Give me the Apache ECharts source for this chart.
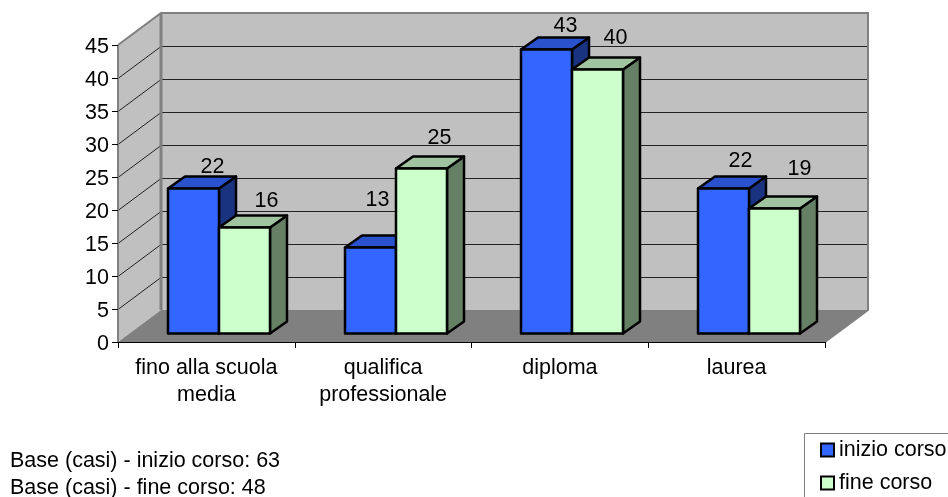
<!DOCTYPE html>
<html><head><meta charset="utf-8">
<style>html,body{margin:0;padding:0;background:#fff;overflow:hidden}#c{width:948px;height:497px}</style>
<script src="https://cdn.jsdelivr.net/npm/echarts@6/dist/echarts.min.js"></script>
</head><body><div id="c"></div>
<script>
const categories = ['fino alla scuola\nmedia', 'qualifica\nprofessionale', 'diploma', 'laurea'];
const inizioCorso = [22, 13, 43, 22];
const fineCorso = [16, 25, 40, 19];
const gridValues = [5, 10, 15, 20, 25, 30, 35, 40, 45];
const notes = ['Base (casi) - inizio corso: 63', 'Base (casi) - fine corso: 48'];
const FONT = 'Liberation Sans, Arial, sans-serif';
const FS = 21.5;
const DEPTH = [43, -32], BAR_SHIFT = [12.6, -9], BAR_DEPTH = [17, -12], BAR_FRAC = 51 / 176.75;
// label nudges relative to the top-centre of each bar front, as Excel placed them
const nudgeA = [[19, -21.5], [7, -47.5], [19, -23.5], [17, -27.5]];
const nudgeB = [[22, -26.5], [18, -30.5], [18, -31.5], [25, -39.5]];

function wallsItem(params, api) {
  const g = params.coordSys;
  const L = g.x, R = g.x + g.width, T = g.y, B = g.y + g.height;
  const dx = DEPTH[0], dy = DEPTH[1];
  const kids = [
    { type: 'polygon', shape: { points: [[L, T], [L + dx, T + dy], [L + dx, B + dy], [L, B]] }, style: { fill: '#c0c0c0' } },
    { type: 'polygon', shape: { points: [[L + dx, T + dy], [R + dx, T + dy], [R + dx, B + dy], [L + dx, B + dy]] }, style: { fill: '#c0c0c0' } },
    { type: 'polygon', shape: { points: [[L, B], [L + dx, B + dy], [R + dx, B + dy], [R, B]] }, style: { fill: '#808080' } }
  ];
  gridValues.forEach(v => {
    const y = Math.round(api.coord([0, v])[1]) + 0.5;
    if (v < 45) {
      kids.push({ type: 'polyline', shape: { points: [[L, y], [L + dx, y + dy], [R + dx, y + dy]] }, style: { stroke: '#222', lineWidth: 1, fill: null } });
    }
  });
  kids.push({ type: 'polyline', shape: { points: [[L, T], [L + dx, T + dy], [R + dx, T + dy], [R + dx, B + dy], [R, B]] }, style: { stroke: '#808080', lineWidth: 2, fill: null } });
  kids.push({ type: 'line', shape: { x1: L + dx, y1: T + dy, x2: L + dx, y2: B + dy }, style: { stroke: '#808080', lineWidth: 3 } });
  kids.push({ type: 'line', shape: { x1: L, y1: T, x2: L, y2: B }, style: { stroke: '#808080', lineWidth: 2 } });
  return { type: 'group', children: kids };
}

function barRenderer(k, front, top, side, nudge) {
  return function (params, api) {
    const i = api.value(0), v = api.value(1);
    const band = api.size([1, 0])[0];
    const w = band * BAR_FRAC;
    const c = api.coord([i, 0]);
    const p = api.coord([i, v]);
    const x0 = Math.round(c[0] + BAR_SHIFT[0] + (k - 1) * w);
    const x1 = Math.round(x0 + w);
    const yb = Math.round(c[1] + BAR_SHIFT[1]) + 0.5;
    const yt = Math.round(p[1] + BAR_SHIFT[1]) + 0.5;
    const dx = BAR_DEPTH[0], dy = BAR_DEPTH[1];
    const st = (fill) => ({ fill, stroke: '#000', lineWidth: 2.5, lineJoin: 'round' });
    return {
      type: 'group',
      children: [
        { type: 'polygon', shape: { points: [[x1, yt], [x1 + dx, yt + dy], [x1 + dx, yb + dy], [x1, yb]] }, style: st(side) },
        { type: 'polygon', shape: { points: [[x0, yt], [x0 + dx, yt + dy], [x1 + dx, yt + dy], [x1, yt]] }, style: st(top) },
        { type: 'rect', shape: { x: x0, y: yt, width: x1 - x0, height: yb - yt }, style: st(front) },
        { type: 'text', style: { text: String(v), x: (x0 + x1) / 2 + nudge[i][0], y: yt + nudge[i][1], align: 'center', verticalAlign: 'middle', font: FS + 'px ' + FONT, fill: '#000' } }
      ]
    };
  };
}

const chart = echarts.init(document.getElementById('c'), null, { renderer: 'canvas' });
chart.setOption({
  animation: false,
  backgroundColor: '#fff',
  grid: { left: 118, right: 123, top: 45, bottom: 155 },
  xAxis: {
    type: 'category', data: categories, boundaryGap: true,
    axisLine: { show: true, lineStyle: { color: '#000', width: 1 } },
    axisTick: { show: true, alignWithLabel: false, length: 6, lineStyle: { color: '#000' } },
    axisLabel: { color: '#000', fontFamily: FONT, fontSize: FS, lineHeight: 27, margin: 13, interval: 0 },
    splitLine: { show: false }, z: 5
  },
  yAxis: {
    type: 'value', min: 0, max: 45, interval: 5,
    axisLine: { show: false },
    axisTick: { show: true, length: 6, lineStyle: { color: '#000' } },
    axisLabel: {
      color: '#000', margin: 9, formatter: '{a|{value}}',
      rich: { a: { color: '#000', fontFamily: FONT, fontSize: FS, padding: [4, 0, 0, 0] } }
    },
    splitLine: { show: false }, z: 5
  },
  legend: {
    left: 820, top: 439, orient: 'vertical', padding: 0, itemWidth: 13, itemHeight: 13, itemGap: 11,
    textStyle: { color: '#000', fontFamily: FONT, fontSize: FS, padding: [0, 0, 0, 0] },
    data: [
      { name: 'inizio corso', icon: 'rect', itemStyle: { color: '#3366ff', borderColor: '#000', borderWidth: 2 } },
      { name: 'fine corso', icon: 'rect', itemStyle: { color: '#ccffcc', borderColor: '#000', borderWidth: 2 } }
    ]
  },
  graphic: [
    { type: 'rect', shape: { x: 804.5, y: 433.5, width: 200, height: 100 }, style: { fill: '#fff', stroke: '#808080', lineWidth: 1 }, z: -1 },
    { type: 'text', x: 10, y: 461, style: { text: notes[0], font: FS + 'px ' + FONT, fill: '#000', verticalAlign: 'middle' } },
    { type: 'text', x: 10, y: 488, style: { text: notes[1], font: FS + 'px ' + FONT, fill: '#000', verticalAlign: 'middle' } }
  ],
  series: [
    { type: 'custom', name: 'walls', data: [[0, 0]], renderItem: wallsItem, silent: true, z: 1 },
    { type: 'custom', name: 'inizio corso', data: inizioCorso.map((v, i) => [i, v]), renderItem: barRenderer(0, '#3366ff', '#2952cc', '#1a3380', nudgeA), itemStyle: { color: '#3366ff' }, z: 2 },
    { type: 'custom', name: 'fine corso', data: fineCorso.map((v, i) => [i, v]), renderItem: barRenderer(1, '#ccffcc', '#9fc49f', '#668066', nudgeB), itemStyle: { color: '#ccffcc' }, z: 3 }
  ]
});
</script></body></html>
